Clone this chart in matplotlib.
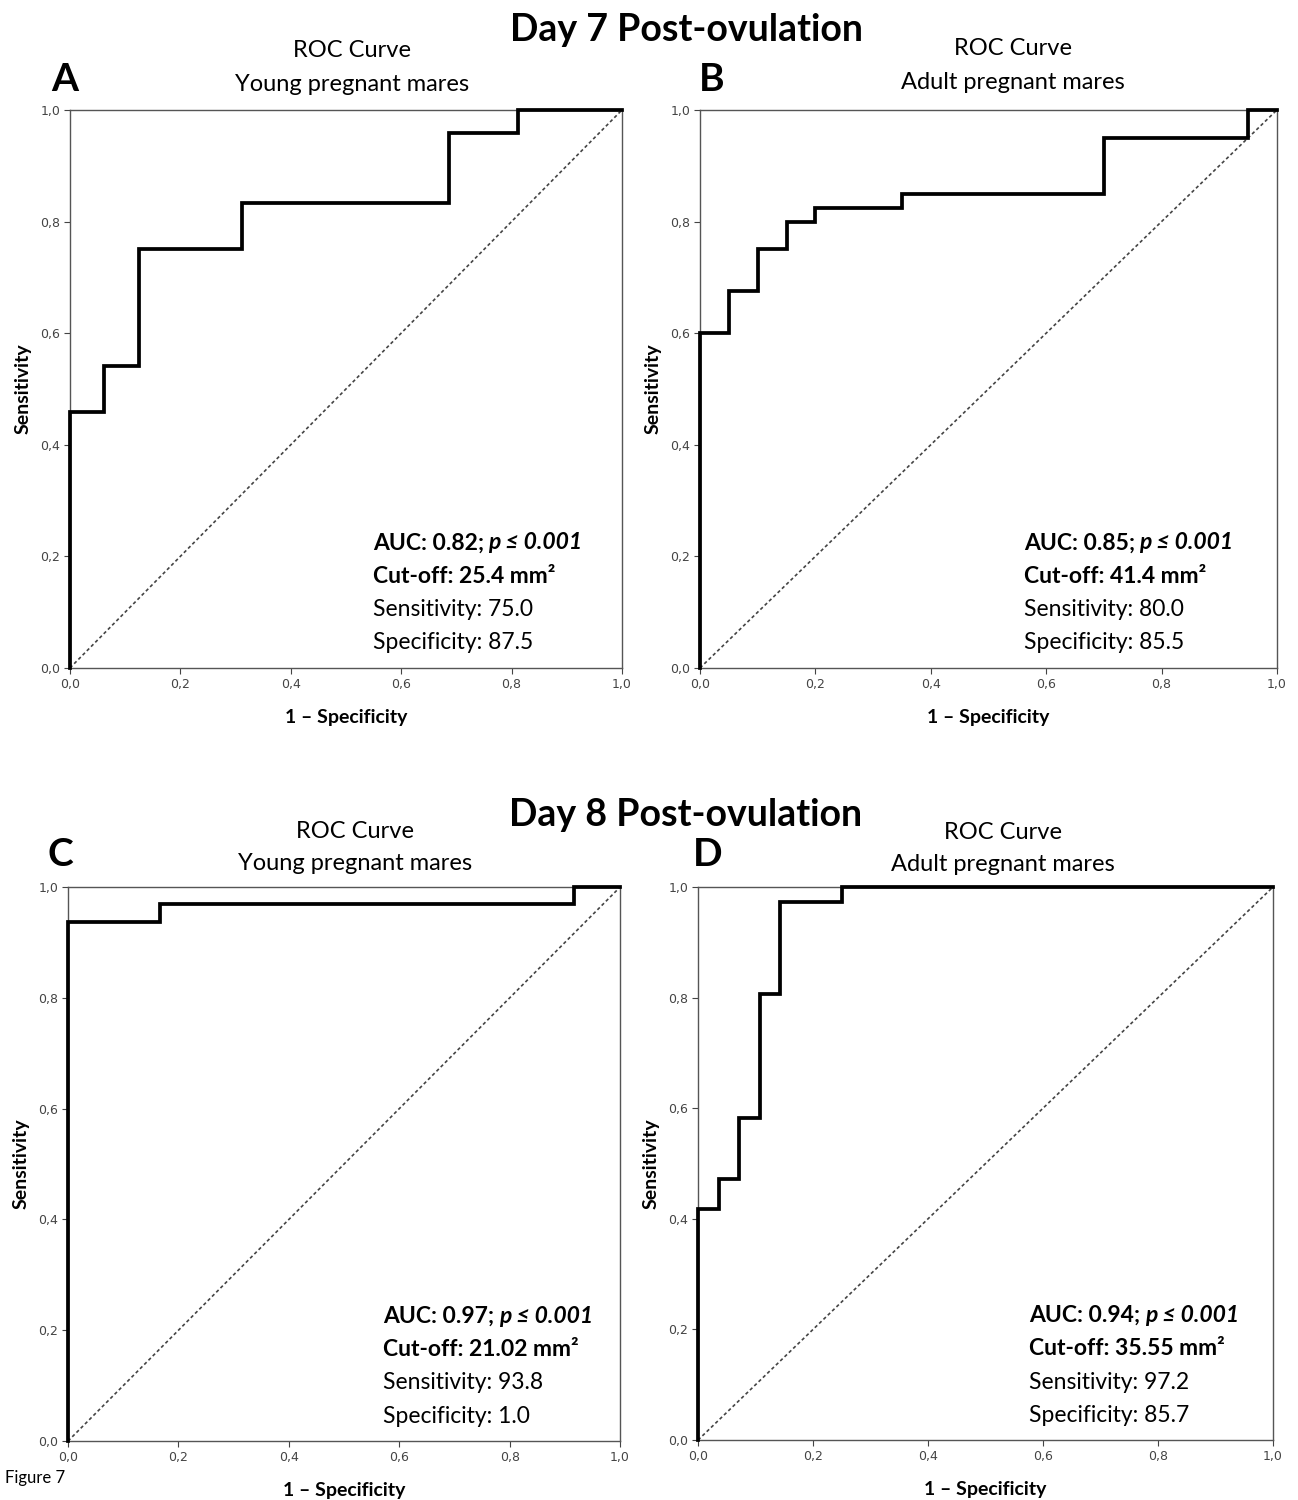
import numpy as np
import matplotlib
matplotlib.use("Agg")
import matplotlib.pyplot as plt

plt.rcParams["font.family"] = ["Lato", "DejaVu Sans"]

# ROC step points (1 - specificity, sensitivity)
fpr_a = [0.0, 0.0, 0.0625, 0.0625, 0.125, 0.125, 0.3125, 0.3125, 0.6875, 0.6875, 0.8125, 0.8125, 1.0]
tpr_a = [0.0, 0.458, 0.458, 0.542, 0.542, 0.75, 0.75, 0.833, 0.833, 0.958, 0.958, 1.0, 1.0]

fpr_b = [0.0, 0.0, 0.05, 0.05, 0.10, 0.10, 0.15, 0.15, 0.20, 0.20, 0.35, 0.35, 0.70, 0.70, 0.95, 0.95, 1.0]
tpr_b = [0.0, 0.60, 0.60, 0.675, 0.675, 0.75, 0.75, 0.80, 0.80, 0.825, 0.825, 0.85, 0.85, 0.95, 0.95, 1.0, 1.0]

fpr_c = [0.0, 0.0, 0.1667, 0.1667, 0.9167, 0.9167, 1.0]
tpr_c = [0.0, 0.9375, 0.9375, 0.969, 0.969, 1.0, 1.0]

fpr_d = [0.0, 0.0, 0.0357, 0.0357, 0.0714, 0.0714, 0.107, 0.107, 0.143, 0.143, 0.25, 0.25, 1.0]
tpr_d = [0.0, 0.417, 0.417, 0.472, 0.472, 0.583, 0.583, 0.806, 0.806, 0.972, 0.972, 1.0, 1.0]

letters = ["A", "B", "C", "D"]
groups = ["Young pregnant mares", "Adult pregnant mares", "Young pregnant mares", "Adult pregnant mares"]
auc = ["0.82", "0.85", "0.97", "0.94"]
cutoff = ["25.4", "41.4", "21.02", "35.55"]
sens = ["75.0", "80.0", "93.8", "97.2"]
spec = ["87.5", "85.5", "1.0", "85.7"]

tick_vals = [0.0, 0.2, 0.4, 0.6, 0.8, 1.0]
tick_labels = ["0,0", "0,2", "0,4", "0,6", "0,8", "1,0"]

curves = [(fpr_a, tpr_a), (fpr_b, tpr_b), (fpr_c, tpr_c), (fpr_d, tpr_d)]

# layout: axes rectangles and text positions (axes fraction)
rects = [
    [0.0539, 0.5547, 0.4253, 0.372],
    [0.5393, 0.5547, 0.4445, 0.372],
    [0.0524, 0.0393, 0.4253, 0.3693],
    [0.5378, 0.0400, 0.4430, 0.3687],
]
title_x = [0.511, 0.542, 0.52, 0.53]
title_y1 = [1.107, 1.111, 1.101, 1.099]
title_y2 = [1.045, 1.050, 1.042, 1.040]
letter_x = [-0.009, 0.021, -0.013, 0.017]
letter_y = [1.054, 1.054, 1.058, 1.058]
stat_x = [0.549, 0.5615, 0.571, 0.576]
stat_y = [0.224, 0.224, 0.2256, 0.225]

fig = plt.figure(figsize=(12.98, 15), dpi=100)

for i in range(4):
    ax = fig.add_axes(rects[i])
    fx, ty = curves[i]
    ax.plot([0, 1], [0, 1], color="#444444", lw=1.2, ls=(0, (2, 1.6)))
    ax.plot(fx, ty, color="black", lw=2.7, solid_joinstyle="miter", clip_on=False, zorder=3)
    ax.set_xlim(0, 1)
    ax.set_ylim(0, 1)
    ax.set_xticks(tick_vals)
    ax.set_yticks(tick_vals)
    ax.set_xticklabels(tick_labels, fontsize=9, color="#444444", family="DejaVu Sans")
    ax.set_yticklabels(tick_labels, fontsize=9, color="#444444", family="DejaVu Sans")
    ax.tick_params(direction="out", length=4, width=0.8, color="#444444", pad=3)
    for s in ax.spines.values():
        s.set_color("#555555")
        s.set_linewidth(1.0)
    ax.set_xlabel("1 \u2013 Specificity", fontsize=14, fontweight="bold", labelpad=13)
    ax.set_ylabel("Sensitivity", fontsize=14, fontweight="bold", labelpad=6)

    ax.text(title_x[i], title_y1[i], "ROC Curve", transform=ax.transAxes,
            ha="center", va="center", fontsize=17)
    ax.text(title_x[i], title_y2[i], groups[i], transform=ax.transAxes,
            ha="center", va="center", fontsize=17)
    ax.text(letter_x[i], letter_y[i], letters[i], transform=ax.transAxes, ha="center", va="center",
            fontsize=28, fontweight="bold")

    # stats block
    t1 = ax.text(stat_x[i], stat_y[i], "AUC: " + auc[i] + ";", transform=ax.transAxes,
                 ha="left", va="center", fontsize=16.5, fontweight="bold")
    ax.annotate("p \u2264 0.001", xy=(1, 0), xycoords=t1, xytext=(3, 0), textcoords="offset points",
                ha="left", va="bottom", fontsize=16.5, fontweight="bold", fontstyle="italic")
    lines = ["Cut-off: " + cutoff[i] + " mm\u00b2", "Sensitivity: " + sens[i], "Specificity: " + spec[i]]
    for k, txt in enumerate(lines):
        ax.annotate(txt, xy=(stat_x[i], stat_y[i]), xycoords="axes fraction",
                    xytext=(0, -24 * (k + 1)), textcoords="offset points",
                    ha="left", va="center", fontsize=16.5,
                    fontweight="bold" if k == 0 else "normal")

fig.text(0.529, 0.980, "Day 7 Post-ovulation", ha="center", va="center", fontsize=27, fontweight="bold")
fig.text(0.528, 0.457, "Day 8 Post-ovulation", ha="center", va="center", fontsize=27, fontweight="bold")
fig.text(0.004, 0.015, "Figure 7", ha="left", va="center", fontsize=12)

fig.savefig("out.png", dpi=100)
